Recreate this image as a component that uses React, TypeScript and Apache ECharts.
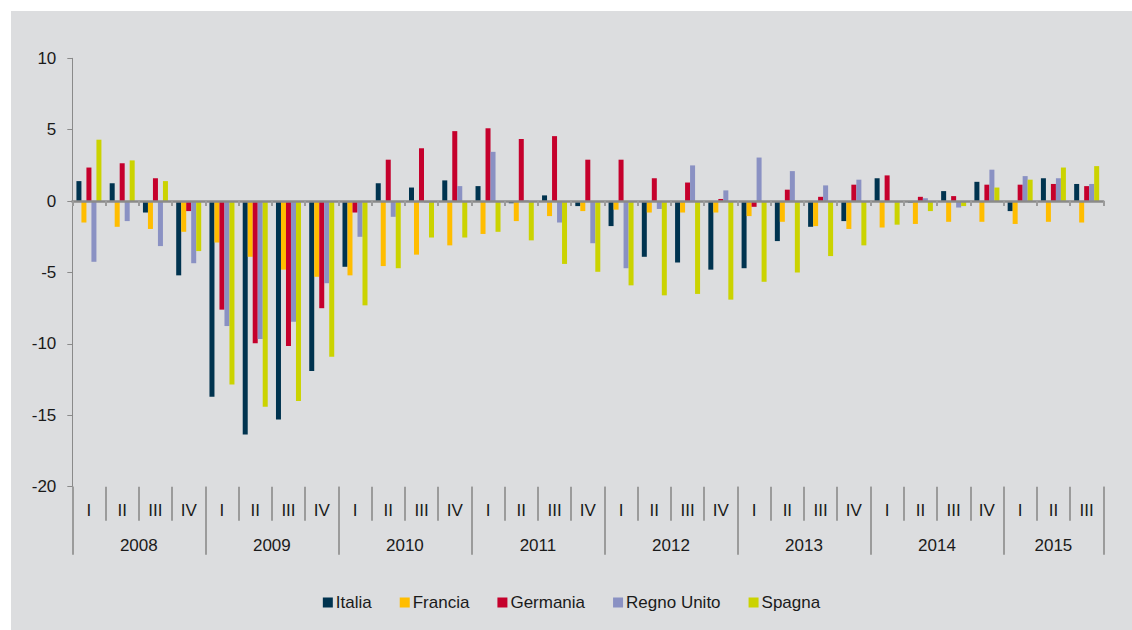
import React, { useEffect, useRef } from "react";
import * as echarts from "echarts";

const quarterLabels = [
  "I", "II", "III", "IV", "I", "II", "III", "IV", "I", "II", "III", "IV",
  "I", "II", "III", "IV", "I", "II", "III", "IV", "I", "II", "III", "IV",
  "I", "II", "III", "IV", "I", "II", "III",
];
const yearLabels = [
  "2008", "2008", "2008", "2008", "2009", "2009", "2009", "2009",
  "2010", "2010", "2010", "2010", "2011", "2011", "2011", "2011",
  "2012", "2012", "2012", "2012", "2013", "2013", "2013", "2013",
  "2014", "2014", "2014", "2014", "2015", "2015", "2015",
];

const italia = [
  1.4, 1.25, -0.8, -5.2, -13.7, -16.35, -15.3, -11.9, -4.6, 1.25, 0.95, 1.45,
  1.05, -0.15, 0.4, -0.35, -1.75, -3.9, -4.3, -4.8, -4.7, -2.8, -1.8, -1.4,
  1.6, -0.1, 0.7, 1.35, -0.7, 1.6, 1.2,
];
const francia = [
  -1.5, -1.8, -1.95, -2.15, -2.9, -3.9, -4.8, -5.3, -5.2, -4.55, -3.75, -3.1,
  -2.3, -1.4, -1.05, -0.7, -0.6, -0.8, -0.8, -0.8, -1.05, -1.45, -1.75, -1.95,
  -1.85, -1.6, -1.45, -1.45, -1.6, -1.45, -1.5,
];
const germania = [
  2.35, 2.65, 1.6, -0.7, -7.6, -9.95, -10.15, -7.5, -0.8, 2.9, 3.7, 4.9,
  5.1, 4.35, 4.55, 2.9, 2.9, 1.6, 1.3, 0.15, -0.4, 0.8, 0.3, 1.15,
  1.8, 0.3, 0.35, 1.15, 1.15, 1.2, 1.05,
];
const regnoUnito = [
  -4.25, -1.4, -3.15, -4.35, -8.75, -9.65, -8.45, -5.75, -2.5, -1.1, -0.1, 1.05,
  3.45, 0.05, -1.5, -2.95, -4.7, -0.55, 2.5, 0.75, 3.05, 2.1, 1.1, 1.5,
  0, 0.2, -0.45, 2.2, 1.75, 1.6, 1.2,
];
const spagna = [
  4.3, 2.85, 1.4, -3.5, -12.85, -14.4, -14.0, -10.9, -7.3, -4.7, -2.55, -2.55,
  -2.15, -2.75, -4.4, -4.95, -5.9, -6.6, -6.5, -6.9, -5.65, -5.0, -3.85, -3.1,
  -1.65, -0.7, -0.35, 0.95, 1.5, 2.35, 2.45,
];

const seriesNames = ["Italia", "Francia", "Germania", "Regno Unito", "Spagna"];
const seriesColors = ["#00334f", "#ffbd00", "#c5002c", "#8a91c3", "#cbd300"];
const seriesValues = [italia, francia, germania, regnoUnito, spagna];

const FONT = "'Liberation Sans', Arial, sans-serif";
const TEXT = "#1a1a1a";
const AXIS_GRAY = "#8a8a8a";
const SEP_GRAY = "#9b9b9b";

export default function App() {
  const ref = useRef<HTMLDivElement>(null);

  useEffect(() => {
    if (!ref.current) return;
    const chart = echarts.init(ref.current, undefined, { renderer: "svg" });
    const gridRect = { left: 61.3, right: 28.7, top: 47.3, bottom: 143.3 };
    const option: any = {
      animation: false,
      backgroundColor: "transparent",
      textStyle: { fontFamily: FONT },
      grid: [
        { ...gridRect },
        { ...gridRect },
        { ...gridRect },
      ],
      legend: {
        data: seriesNames,
        left: "center",
        top: 578,
        icon: "rect",
        itemWidth: 10,
        itemHeight: 10,
        itemGap: 28,
        textStyle: { fontSize: 17, color: TEXT, fontFamily: FONT, padding: [0, 0, 0, -2] },
      },
      xAxis: [
        {
          type: "category",
          gridIndex: 0,
          data: quarterLabels,
          position: "bottom",
          z: 3,
          axisLine: { onZero: true, lineStyle: { color: AXIS_GRAY, width: 2.5 } },
          axisTick: { show: true, interval: 0, length: 5, lineStyle: { color: SEP_GRAY, width: 2 } },
          axisLabel: { show: false },
          splitLine: { show: false },
        },
        {
          type: "category",
          gridIndex: 1,
          data: quarterLabels,
          position: "bottom",
          axisLine: { show: false, onZero: false },
          axisTick: { show: true, interval: 0, length: 34, lineStyle: { color: SEP_GRAY, width: 2 } },
          axisLabel: { interval: 0, margin: 15, fontSize: 17, color: TEXT, fontFamily: FONT },
          splitLine: { show: false },
        },
        {
          type: "category",
          gridIndex: 2,
          data: yearLabels,
          position: "bottom",
          axisLine: { show: false, onZero: false },
          axisTick: {
            show: true,
            interval: (i: number) => i % 4 === 0,
            length: 68,
            lineStyle: { color: SEP_GRAY, width: 2 },
          },
          axisLabel: {
            interval: (i: number) => i % 4 === 1,
            margin: 50,
            fontSize: 17,
            color: TEXT,
            fontFamily: FONT,
            formatter: (v: string, i: number) => (i === 29 ? `{c|${v}}` : `{s|${v}}`),
            rich: {
              s: { fontSize: 17, color: TEXT, fontFamily: FONT, padding: [0, 0, 0, 33.26] },
              c: { fontSize: 17, color: TEXT, fontFamily: FONT },
            },
          },
          splitLine: { show: false },
        },
      ],
      yAxis: [
        {
          type: "value",
          gridIndex: 0,
          min: -20,
          max: 10,
          interval: 5,
          axisLine: { show: true, lineStyle: { color: AXIS_GRAY, width: 1 } },
          axisTick: { show: true, length: 5, lineStyle: { color: AXIS_GRAY, width: 1 } },
          axisLabel: { margin: 16, fontSize: 17, color: TEXT, fontFamily: FONT },
          splitLine: { show: false },
        },
        { type: "value", gridIndex: 1, min: 0, max: 1, show: false },
        { type: "value", gridIndex: 2, min: 0, max: 1, show: false },
      ],
      series: seriesNames.map((name, k) => ({
        name,
        type: "bar",
        xAxisIndex: 0,
        yAxisIndex: 0,
        data: seriesValues[k],
        barWidth: 5,
        barGap: "0%",
        itemStyle: { color: seriesColors[k] },
      })),
    };
    chart.setOption(option);
    return () => chart.dispose();
  }, []);

  return (
    <div style={{ position: "fixed", left: 0, top: 0, width: 1132, height: 630, background: "#ffffff" }}>
      <div style={{ position: "absolute", left: 11, top: 11, width: 1121, height: 619, background: "#dcdddf" }}>
        <div ref={ref} style={{ width: 1121, height: 619 }} />
      </div>
    </div>
  );
}
